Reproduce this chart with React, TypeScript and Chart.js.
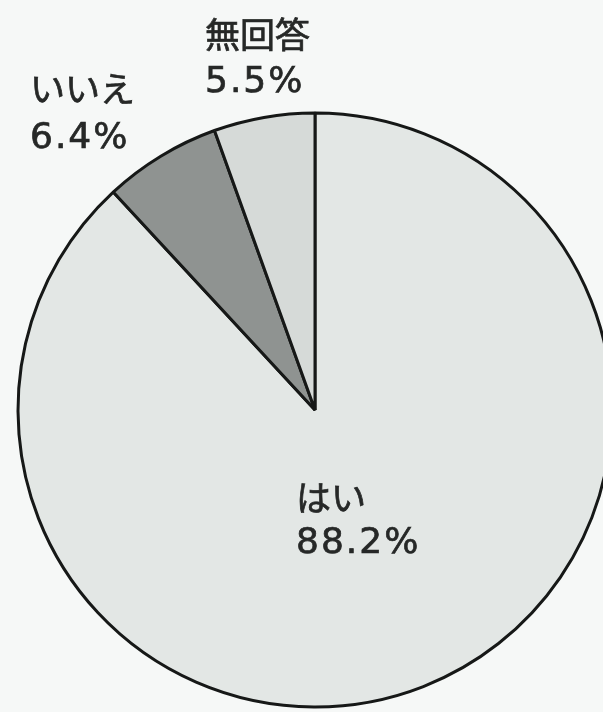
import React, { useEffect, useRef } from "react";
import { Chart, registerables } from "chart.js";

Chart.register(...registerables);

const categories = ["はい", "いいえ", "無回答"];
const values = [88.2, 6.4, 5.5];
const valueLabels = ["88.2%", "6.4%", "5.5%"];

const sliceColors = ["#e3e7e5", "#8f9391", "#d6dad8"];
// label anchor offsets relative to pie centre: [dx, dy of first line baseline, dy of second line baseline]
const labelOffsets = [
  [-19, 101, 143],
  [-285, 102 - 410, 148 - 410],
  [-110, 48 - 410, 92 - 410],
];

const labelPlugin = {
  id: "pieLabels",
  afterDatasetsDraw(chart: any) {
    const meta = chart.getDatasetMeta(0);
    const ctx = chart.ctx;
    ctx.save();
    ctx.fillStyle = "#262827";
    ctx.strokeStyle = "#262827";
    ctx.lineWidth = 0.7;
    ctx.textAlign = "left";
    ctx.textBaseline = "alphabetic";
    meta.data.forEach((arc: any, i: number) => {
      const cx = arc.x;
      const cy = arc.y;
      const [dx, dy1, dy2] = labelOffsets[i];
      ctx.font = "35px 'Noto Sans CJK JP', 'DejaVu Sans'";
      (ctx as any).letterSpacing = "0px";
      ctx.fillText(categories[i], cx + dx, cy + dy1);
      ctx.strokeText(categories[i], cx + dx, cy + dy1);
      ctx.font = "36px 'DejaVu Sans', 'Noto Sans CJK JP'";
      (ctx as any).letterSpacing = "2px";
      ctx.fillText(valueLabels[i], cx + dx, cy + dy2);
      ctx.strokeText(valueLabels[i], cx + dx, cy + dy2);
    });
    ctx.restore();
  },
};

export default function App() {
  const ref = useRef<HTMLCanvasElement | null>(null);
  useEffect(() => {
    if (!ref.current) return;
    const chart = new Chart(ref.current, {
      type: "pie",
      data: {
        labels: categories,
        datasets: [
          {
            data: values,
            backgroundColor: sliceColors,
            borderColor: "#161817",
            borderWidth: 3,
          },
        ],
      },
      options: {
        responsive: false,
        animation: false,
        radius: 297,
        layout: { padding: { top: 108, bottom: 0, left: 0, right: 0 } },
        plugins: {
          legend: { display: false },
          tooltip: { enabled: false },
        },
      },
      plugins: [labelPlugin],
    });
    return () => chart.destroy();
  }, []);
  return (
    <div
      style={{
        position: "fixed",
        left: 0,
        top: 0,
        width: 603,
        height: 712,
        overflow: "hidden",
        background: "#f6f8f7",
      }}
    >
      <canvas ref={ref} width={630} height={712} style={{ display: "block" }} />
    </div>
  );
}
